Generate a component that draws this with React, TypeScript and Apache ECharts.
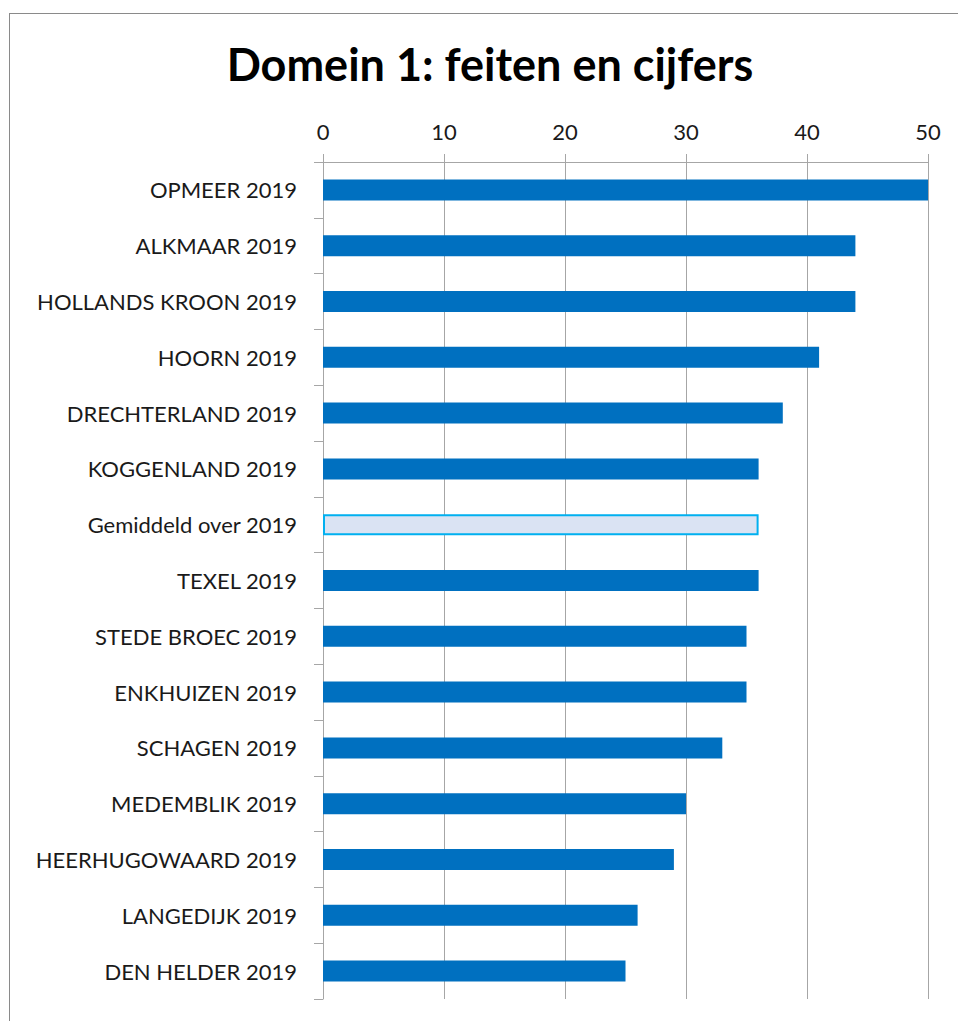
import React, { useEffect, useRef } from "react";
import * as echarts from "echarts";

const categories = [
  "OPMEER 2019",
  "ALKMAAR 2019",
  "HOLLANDS KROON 2019",
  "HOORN 2019",
  "DRECHTERLAND 2019",
  "KOGGENLAND 2019",
  "Gemiddeld over 2019",
  "TEXEL 2019",
  "STEDE BROEC 2019",
  "ENKHUIZEN 2019",
  "SCHAGEN 2019",
  "MEDEMBLIK 2019",
  "HEERHUGOWAARD 2019",
  "LANGEDIJK 2019",
  "DEN HELDER 2019",
];
const values = [50, 44, 44, 41, 38, 36, 36, 36, 35, 35, 33, 30, 29, 26, 25];
const averageLabel = "Gemiddeld over 2019";
const xTicks = { min: 0, max: 50, interval: 10 };
const title = "Domein 1: feiten en cijfers";

export default function App() {
  const ref = useRef<HTMLDivElement>(null);
  useEffect(() => {
    if (!ref.current) return;
    const chart = echarts.init(ref.current, undefined, { renderer: "svg" });
    const font = "Lato, 'Open Sans', sans-serif";
    chart.setOption({
      animation: false,
      backgroundColor: "#ffffff",
      title: {
        text: title,
        left: 485,
        textAlign: "center",
        top: 36,
        textStyle: { fontFamily: font, fontSize: 45, fontWeight: "bold", color: "#000000" },
      },
      graphic: [
        { type: "line", shape: { x1: 9.5, y1: 13, x2: 9.5, y2: 1021 }, style: { stroke: "#8a8a8a", lineWidth: 1 } },
        { type: "line", shape: { x1: 9, y1: 13.5, x2: 958, y2: 13.5 }, style: { stroke: "#8a8a8a", lineWidth: 1 } },
      ],
      grid: { left: 323, right: 30, top: 162, bottom: 22, containLabel: false },
      xAxis: {
        type: "value",
        position: "top",
        min: xTicks.min,
        max: xTicks.max,
        interval: xTicks.interval,
        axisLine: { show: true, lineStyle: { color: "#a6a6a6" } },
        axisTick: { show: true, length: 8, lineStyle: { color: "#a6a6a6" } },
        splitLine: { show: true, lineStyle: { color: "#a6a6a6", width: 1 } },
        axisLabel: { margin: 20, fontFamily: font, fontSize: 22, color: "#1a1a1a" },
      },
      yAxis: {
        type: "category",
        inverse: true,
        data: categories,
        axisLine: { show: true, lineStyle: { color: "#a6a6a6" } },
        axisTick: { show: true, length: 9, lineStyle: { color: "#a6a6a6" } },
        axisLabel: { margin: 26, fontFamily: font, fontSize: 22, color: "#1a1a1a" },
      },
      series: [
        {
          type: "bar",
          barWidth: 21,
          data: values.map((v, i) =>
            categories[i] === averageLabel
              ? { value: v, itemStyle: { color: "#DAE3F3", borderColor: "#00B0F0", borderWidth: 2 } }
              : { value: v, itemStyle: { color: "#0070C0" } }
          ),
        },
      ],
    });
    return () => chart.dispose();
  }, []);
  return (
    <div
      ref={ref}
      style={{ position: "fixed", left: 0, top: 0, width: 958, height: 1021 }}
    />
  );
}
